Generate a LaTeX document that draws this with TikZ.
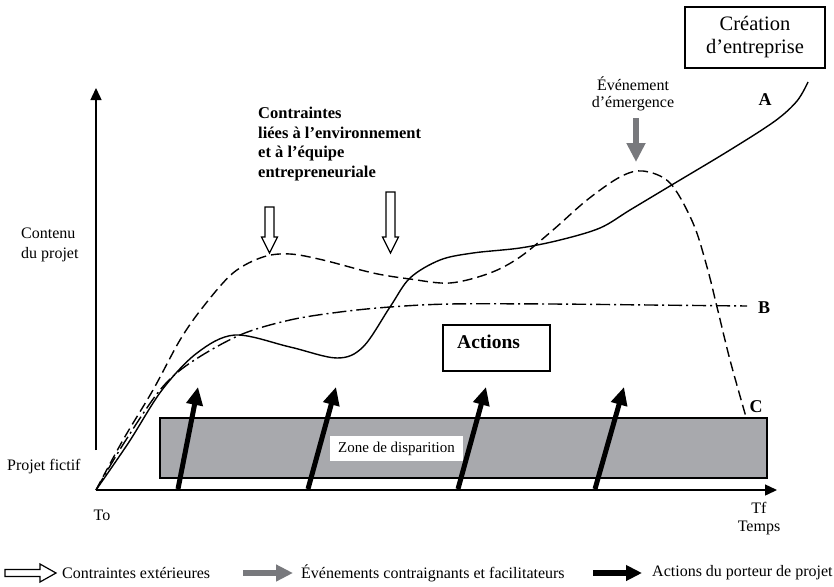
\documentclass[tikz,border=0pt]{standalone}
\usepackage{fontspec}
\setmainfont{Liberation Serif}
\usetikzlibrary{arrows.meta}
\definecolor{zonegray}{RGB}{168,169,173}
\definecolor{eventgray}{RGB}{120,121,125}

\begin{document}
\begin{tikzpicture}[x=1pt,y=-1pt,
  axisline/.style={line width=1.4pt,-{Triangle[length=12pt,width=11pt]}},
  curve/.style={line width=1.4pt,smooth,tension=0.55,line join=round},
  curveA/.style={curve},
  curveB/.style={curve,dash pattern=on 14pt off 4pt on 2pt off 4pt},
  curveC/.style={curve,dash pattern=on 10pt off 5pt},
  actionarrow/.style={line width=5pt,-{Triangle[length=18pt,width=16pt]}},
  eventarrow/.style={line width=6pt,draw=eventgray,-{Triangle[length=19pt,width=18pt]}},
  hollowarrow/.style={draw=black,fill=white,line width=1.2pt,line join=miter},
  txt/.style={font=\fontsize{16}{19}\selectfont,inner sep=0pt},
  boldtxt/.style={font=\fontsize{16.5}{19.5}\selectfont\bfseries,inner sep=0pt},
  letter/.style={font=\fontsize{18}{20}\selectfont\bfseries,inner sep=0pt}
]
\useasboundingbox (0,0) rectangle (834,586);

% axes
\coordinate (O) at (96,490);
\coordinate (ybase) at (96,450);
\coordinate (ytop) at (96,88);
\coordinate (xend) at (777,490);
\draw[axisline] (ybase) -- (ytop);
\draw[axisline] (O) -- (xend);

% zone of disappearance
\draw[fill=zonegray,line width=1.2pt] (160,418) rectangle (767,478);
\node[txt,fill=white,minimum width=133pt,minimum height=25pt,font=\fontsize{15}{18}\selectfont]
  (zone) at (396.5,448.5) {Zone de disparition};

% curve B (dash-dot)
\draw[curveB] plot coordinates {(96,490) (124,443) (160,390) (190,363) (240,335) (290,320)
  (340,312) (390,307) (450,304) (550,304) (650,305) (747,306)};

% curve C (dashed)
\draw[curveC] plot coordinates {(96,490) (123,440) (153,390) (180,340) (203,307) (233,273)
  (263,257) (290,254) (323,260) (373,273) (410,279) (450,283) (490,273) (520,257)
  (553,230) (587,200) (620,177) (643,171) (670,183) (693,223) (707,267) (717,307)
  (730,360) (746,417)};

% curve A (solid)
\draw[curveA] plot coordinates {(96,490) (129,442) (162,390) (197,353) (235,335) (290,347)
  (337,358) (363,347) (390,307) (410,278) (440,260) (473,253) (520,248) (560,240)
  (600,228) (630,210) (670,186) (730,150) (775,121) (797,101) (808,82)};

% curve labels
\node[letter] (labA) at (765,100) {A};
\node[letter] (labB) at (764,308) {B};
\node[letter] (labC) at (756,407) {C};

% actions box
\draw[line width=1.2pt] (443,325) rectangle (550,371);
\node[font=\fontsize{19.5}{22}\selectfont\bfseries,inner sep=0pt,anchor=west] (actions) at (457,342) {Actions};

% actions of the project leader
\coordinate (a1s) at (178,489); \coordinate (a1e) at (198,387);
\coordinate (a2s) at (308,489); \coordinate (a2e) at (336,387);
\coordinate (a3s) at (458,489); \coordinate (a3e) at (486,387);
\coordinate (a4s) at (595,489); \coordinate (a4e) at (624,387);
\draw[actionarrow] (a1s) -- (a1e);
\draw[actionarrow] (a2s) -- (a2e);
\draw[actionarrow] (a3s) -- (a3e);
\draw[actionarrow] (a4s) -- (a4e);

% external constraints
\draw[hollowarrow] (265,207) -- (274,207) -- (274,237) -- (277.5,237) -- (269.5,253)
  -- (261.5,237) -- (265,237) -- cycle;
\draw[hollowarrow] (386,192) -- (395,192) -- (395,237) -- (398.5,237) -- (390.5,253)
  -- (382.5,237) -- (386,237) -- cycle;
\node[boldtxt,align=left,anchor=north west] (constr) at (258,107)
  {Contraintes\\liées à l’environnement\\et à l’équipe\\entrepreneuriale};

% emergence event
\coordinate (evs) at (636,118); \coordinate (eve) at (636,162);
\draw[eventarrow] (evs) -- (eve);
\node[txt,align=center,font=\fontsize{16}{17}\selectfont] (event) at (633,94)
  {Événement\\d’émergence};

% company creation
\node[draw,line width=1.2pt,minimum width=140pt,minimum height=61pt,align=center,
  inner sep=0pt,font=\fontsize{20.5}{23}\selectfont] (creation) at (755,37.5)
  {Création\\d’entreprise};

% axis labels
\node[txt,align=left,anchor=west,font=\fontsize{16}{20}\selectfont] (ylab) at (21,245) {Contenu\\du projet};
\node[txt,anchor=west] (fictif) at (7,467) {Projet fictif};
\node[txt] (to) at (102,515) {To};
\node[txt,align=center,font=\fontsize{16}{18}\selectfont] (tf) at (759,519) {Tf\\Temps};

% legend
\draw[hollowarrow] (5,569.5) -- (40,569.5) -- (40,564) -- (56,573) -- (40,582)
  -- (40,576.5) -- (5,576.5) -- cycle;
\node[txt,anchor=west] (leg1) at (62,573) {Contraintes extérieures};
\coordinate (g1s) at (243,573); \coordinate (g1e) at (293,573);
\draw[line width=6pt,draw=eventgray,-{Triangle[length=17pt,width=16pt]}] (g1s) -- (g1e);
\node[txt,anchor=west] (leg2) at (301,573) {Événements contraignants et facilitateurs};
\coordinate (b1s) at (593,573); \coordinate (b1e) at (642,573);
\draw[line width=6pt,-{Triangle[length=16pt,width=15pt]}] (b1s) -- (b1e);
\node[txt,anchor=west] (leg3) at (652,573) {Actions du porteur de projet};
\end{tikzpicture}
\end{document}
